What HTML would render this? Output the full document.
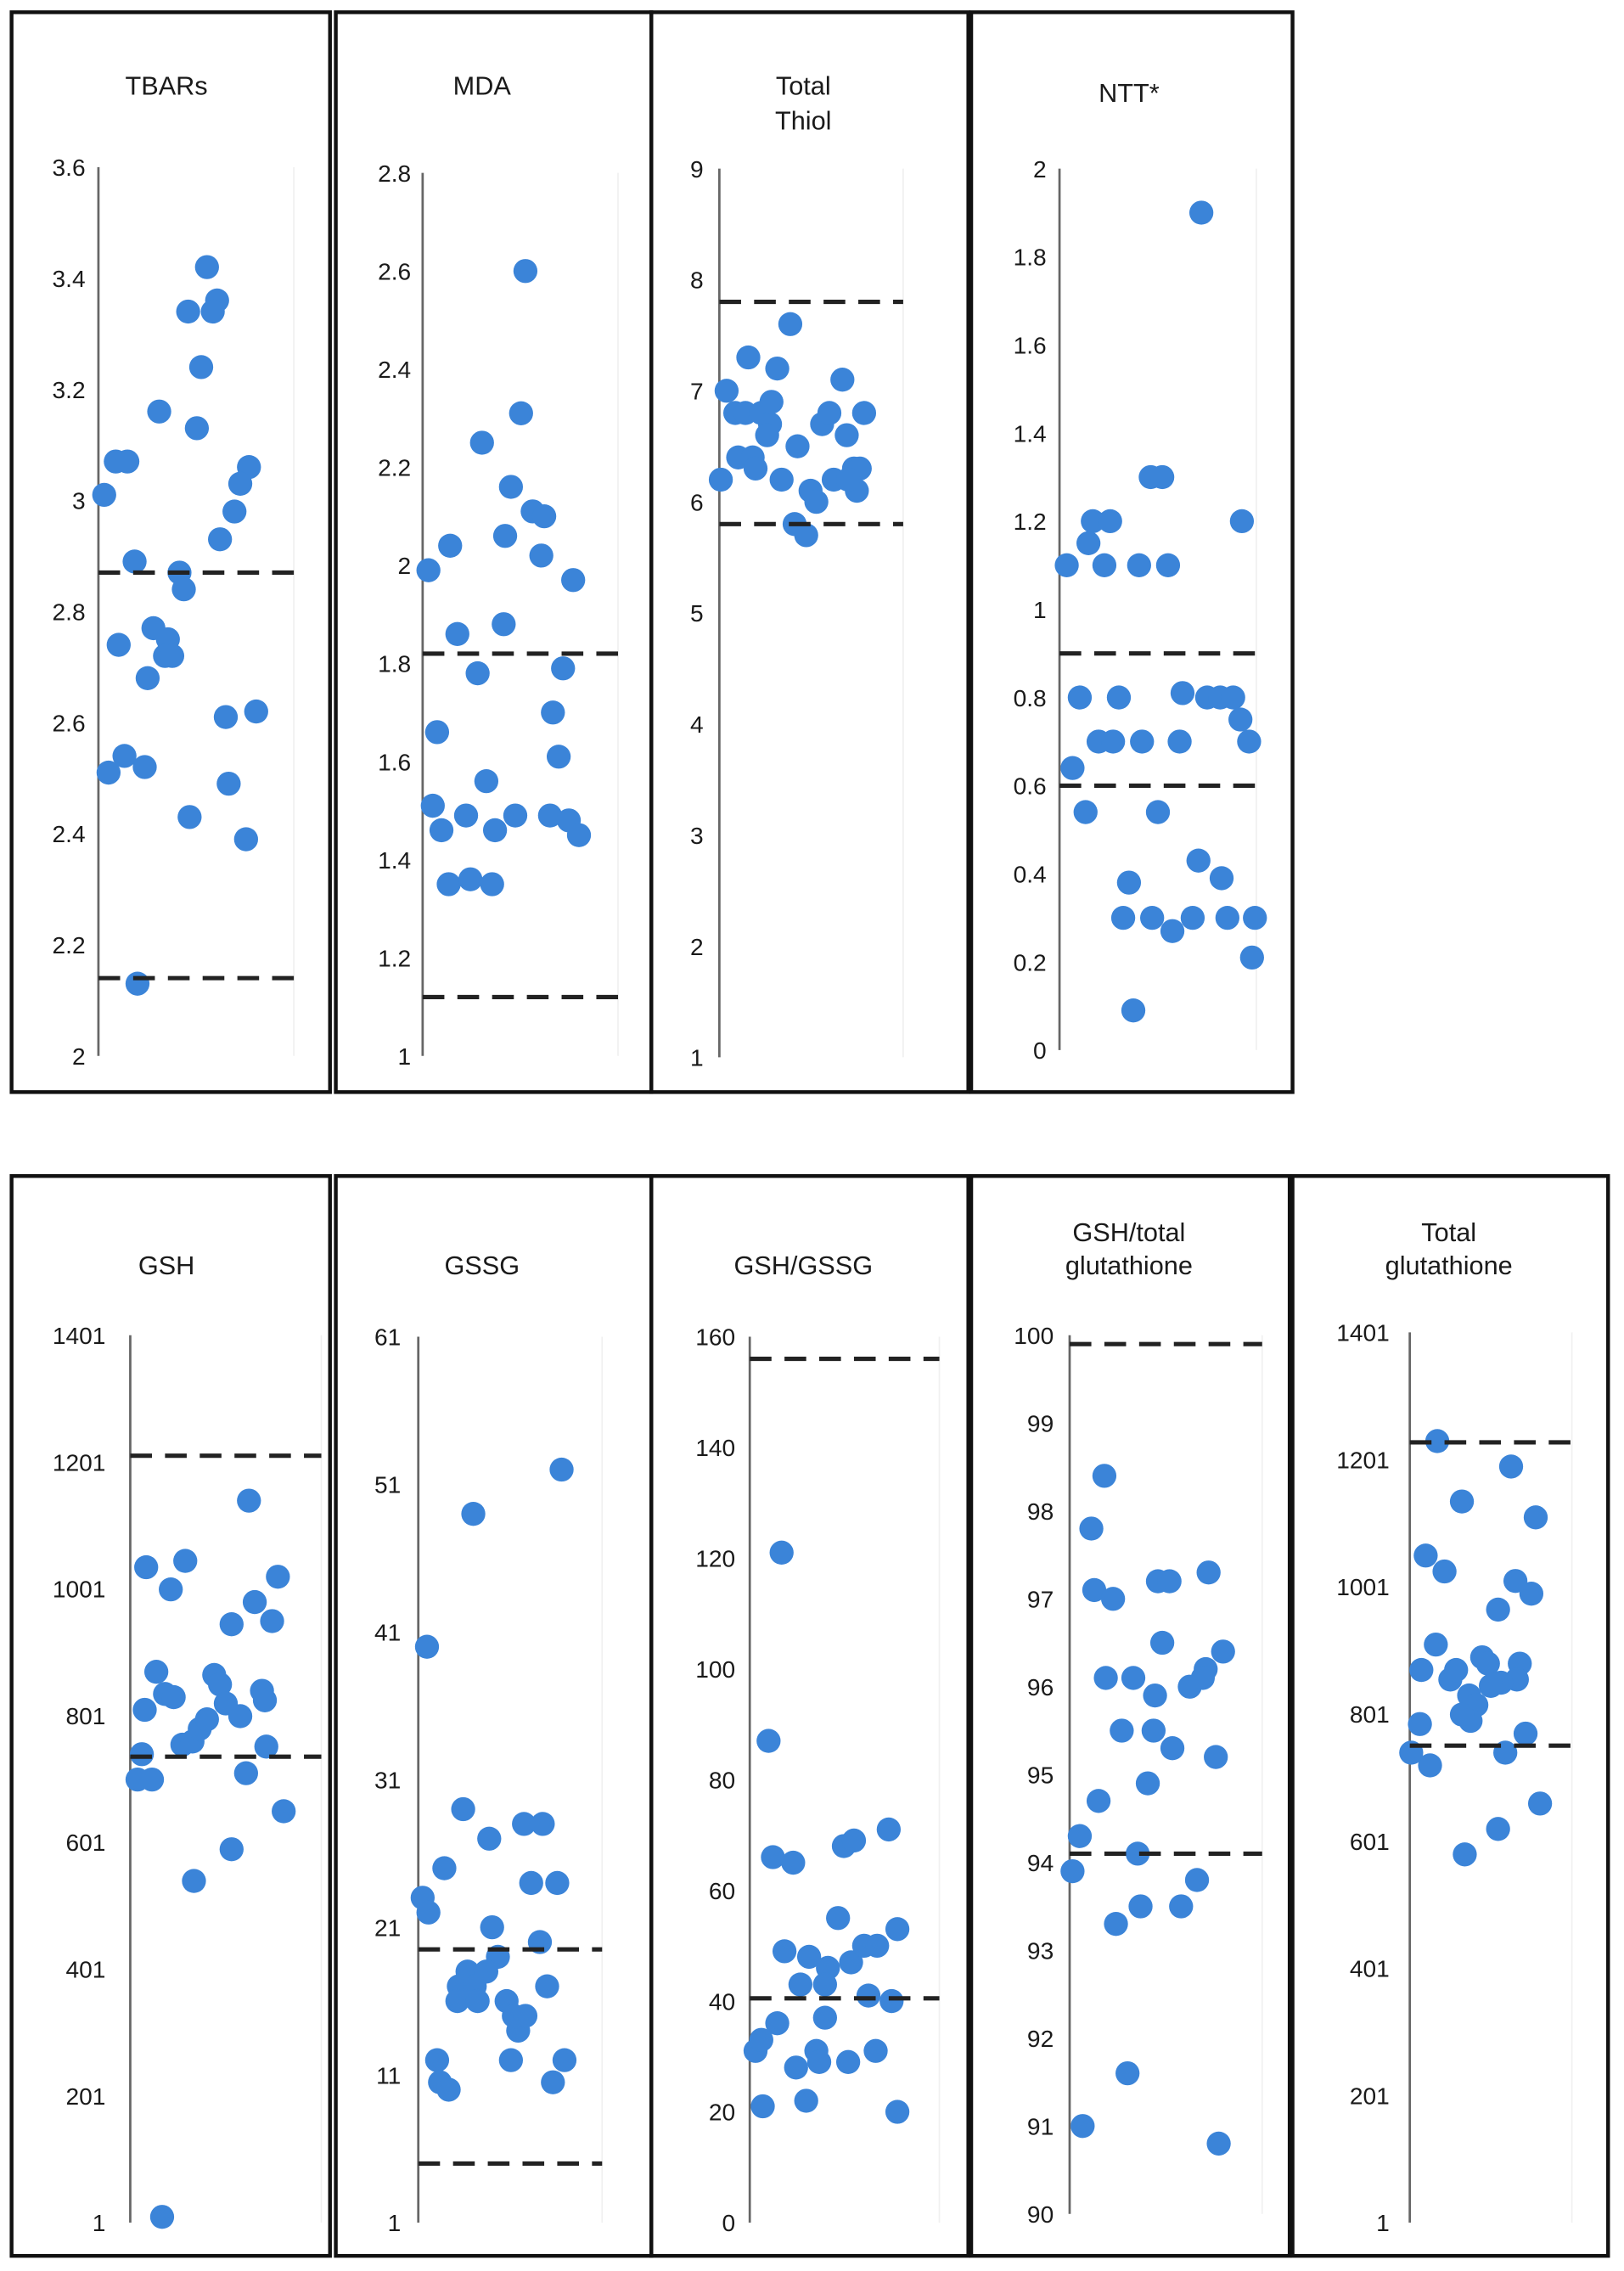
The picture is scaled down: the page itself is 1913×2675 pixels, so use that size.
<!DOCTYPE html>
<html><head><meta charset="utf-8">
<style>
html,body{margin:0;padding:0;background:#fff;}
svg{display:block;}
text{font-family:"Liberation Sans",Arial,sans-serif;fill:#1a1a1a;}
</style></head>
<body>
<svg id="fig" width="1913" height="2675" viewBox="0 0 1122 1568" xmlns="http://www.w3.org/2000/svg"></svg>
<script>
// ---- data (jitter = horizontal offset in display px from axis) ----
const tbarsValues=[3.01,3.07,3.07,3.16,2.89,2.87,2.84,2.74,2.77,2.75,2.72,2.72,2.68,3.42,3.36,3.34,3.34,3.24,3.13,3.06,3.03,2.98,2.93,2.51,2.54,2.52,2.43,2.61,2.62,2.49,2.39,2.13];
const tbarsJitter=[4,12,20,42,25,56,59,14,38,48,46,51,34,75,82,79,62,71,68,104,98,94,84,7,18,32,63,88,109,90,102,27];
const mdaValues=[1.99,2.04,1.66,1.86,1.78,2.25,2.06,2.16,1.88,2.6,2.31,2.11,2.1,2.02,1.97,1.79,1.7,1.61,1.51,1.46,1.49,1.56,1.46,1.49,1.49,1.48,1.45,1.35,1.36,1.35];
const mdaJitter=[4,19,10,24,38,41,57,61,56,71,68,76,84,82,104,97,90,94,7,13,30,44,50,64,88,101,108,18,33,48];
const thiolValues=[7.0,6.8,6.8,7.3,7.2,7.6,6.2,6.4,6.4,6.8,6.7,6.6,6.3,6.2,6.5,6.9,6.7,6.8,7.1,6.6,6.8,6.1,6.0,6.2,6.3,6.3,6.1,5.8,5.7,6.2];
const thiolJitter=[5,11,18,20,40,49,1,13,23,29,35,33,25,43,54,36,71,76,85,88,100,63,67,79,93,97,95,52,60,89];
const nttValues=[1.1,1.2,1.2,1.15,1.1,1.1,1.1,1.3,1.3,1.9,1.2,0.64,0.8,0.7,0.7,0.8,0.7,0.7,0.81,0.8,0.8,0.8,0.75,0.7,0.54,0.54,0.38,0.3,0.3,0.27,0.3,0.43,0.39,0.3,0.3,0.21,0.09];
const nttJitter=[5,23,35,20,31,55,75,63,71,98,126,9,14,27,37,41,57,83,85,102,111,120,125,131,18,68,48,44,64,78,92,96,112,116,135,133,51];
const gshValues=[1035,1045,1000,1140,1020,980,950,945,700,700,740,810,870,835,830,755,760,780,795,865,850,820,800,840,825,752,710,590,540,650,10];
const gshJitter=[11,38,28,82,102,86,98,70,5,15,8,10,18,24,30,36,43,48,53,58,62,66,76,91,93,94,80,70,44,106,22];
const gssgValues=[40,49,52,23,22,25,29,27,28,28,24,24,21,20,19,17,18,17,16,16,18,16,15,14,15,17,12,10.5,10,12,12,10.5];
const gssgJitter=[6,38,99,3,7,18,31,49,73,86,78,96,51,84,55,28,34,39,27,41,47,61,66,69,74,89,13,15,21,64,101,93];
const ratioValues=[121,87,66,65,68,69,71,49,48,55,46,43,43,47,50,50,53,41,40,31,33,36,28,31,29,37,29,31,21,22,20];
const ratioJitter=[22,13,16,30,65,72,96,24,41,61,54,35,52,70,79,88,102,82,98,4,8,19,32,46,48,52,68,87,9,39,102];
const fracValues=[98.4,97.8,97.1,97.0,97.2,97.2,97.3,96.1,96.1,96.5,96.0,96.2,96.4,95.9,95.5,95.5,95.3,94.9,95.2,94.7,94.3,93.9,94.1,93.3,93.5,93.5,93.8,91.6,91.0,90.8,96.1];
const fracJitter=[24,15,17,30,61,69,96,25,44,64,83,94,106,59,36,58,71,54,101,20,7,2,47,32,49,77,88,40,9,103,92];
const totValues=[1230,1135,1190,1110,1050,1025,965,1010,990,910,870,855,870,890,880,880,855,850,845,830,815,790,800,785,720,740,740,770,620,660,580];
const totJitter=[19,36,70,87,11,24,61,73,84,18,8,28,32,50,54,76,74,63,56,41,46,42,36,7,14,1,66,80,61,90,38];

const tbarsTicks=["3.6","3.4","3.2","3","2.8","2.6","2.4","2.2","2"];
const mdaTicks=["2.8","2.6","2.4","2.2","2","1.8","1.6","1.4","1.2","1"];
const thiolTicks=["9","8","7","6","5","4","3","2","1"];
const nttTicks=["2","1.8","1.6","1.4","1.2","1","0.8","0.6","0.4","0.2","0"];
const gshTicks=["1401","1201","1001","801","601","401","201","1"];
const gssgTicks=["61","51","41","31","21","11","1"];
const ratioTicks=["160","140","120","100","80","60","40","20","0"];
const fracTicks=["100","99","98","97","96","95","94","93","92","91","90"];
const totTicks=["1401","1201","1001","801","601","401","201","1"];

const tbarsRefs=[2.87,2.14], mdaRefs=[1.82,1.12], thiolRefs=[7.8,5.8], nttRefs=[0.9,0.6];
const gshRefs=[1211,736], gssgRefs=[19.5,5], ratioRefs=[156,40.5], fracRefs=[99.9,94.1], totRefs=[1228,751];

const NS="http://www.w3.org/2000/svg";
const svg=document.getElementById('fig');
function mk(tag,attrs,parent){const e=document.createElementNS(NS,tag);for(const k in attrs)e.setAttribute(k,attrs[k]);(parent||svg).appendChild(e);return e;}

const panels=[
 {name:'tbars',box:[8,8,228,754],title:['TBARs'],tc:115,ty:[65],ax:68,rx:203,yt:115,yb:729,min:2,max:3.6,ticks:tbarsTicks,vals:tbarsValues,jit:tbarsJitter,refs:tbarsRefs,lx:59},
 {name:'mda',box:[232,8,450,754],title:['MDA'],tc:333,ty:[65],ax:292,rx:427,yt:119,yb:729,min:1,max:2.8,ticks:mdaTicks,vals:mdaValues,jit:mdaJitter,refs:mdaRefs,lx:284},
 {name:'total-thiol',box:[450,8,669,754],title:['Total','Thiol'],tc:555,ty:[65,89],ax:497,rx:624,yt:116,yb:730,min:1,max:9,ticks:thiolTicks,vals:thiolValues,jit:thiolJitter,refs:thiolRefs,lx:486},
 {name:'ntt',box:[671,8,893,754],title:['NTT*'],tc:780,ty:[70],ax:732,rx:868,yt:116,yb:725,min:0,max:2,ticks:nttTicks,vals:nttValues,jit:nttJitter,refs:nttRefs,lx:723},
 {name:'gsh',box:[8,812,228,1558],title:['GSH'],tc:115,ty:[880],ax:90,rx:222,yt:922,yb:1535,min:1,max:1401,ticks:gshTicks,vals:gshValues,jit:gshJitter,refs:gshRefs,lx:73},
 {name:'gssg',box:[232,812,450,1558],title:['GSSG'],tc:333,ty:[880],ax:289,rx:416,yt:923,yb:1535,min:1,max:61,ticks:gssgTicks,vals:gssgValues,jit:gssgJitter,refs:gssgRefs,lx:277},
 {name:'gsh-gssg-ratio',box:[450,812,669,1558],title:['GSH/GSSG'],tc:555,ty:[880],ax:518,rx:649,yt:923,yb:1535,min:0,max:160,ticks:ratioTicks,vals:ratioValues,jit:ratioJitter,refs:ratioRefs,lx:508},
 {name:'gsh-total-ratio',box:[671,812,891,1558],title:['GSH/total','glutathione'],tc:780,ty:[857,880],ax:739,rx:872,yt:922,yb:1529,min:90,max:100,ticks:fracTicks,vals:fracValues,jit:fracJitter,refs:fracRefs,lx:728},
 {name:'total-glutathione',box:[893,812,1111,1558],title:['Total','glutathione'],tc:1001,ty:[857,880],ax:974,rx:1086,yt:920,yb:1535,min:1,max:1401,ticks:totTicks,vals:totValues,jit:totJitter,refs:totRefs,lx:960}
];

panels.forEach(p=>{
  const g=mk('g',{});
  
  
  const y=v=>p.yb-(v-p.min)/(p.max-p.min)*(p.yb-p.yt);
  const b=p.box;
  const r=mk('rect',{x:b[0],y:b[1],width:b[2]-b[0],height:b[3]-b[1],fill:'none',stroke:'#111','stroke-width':2.6},g);
  
  
  p.title.forEach((t,i)=>{
    const tx=mk('text',{x:p.tc,y:p.ty[i],'text-anchor':'middle','font-size':18},g);
    tx.textContent=t;
    
    
  });
  const rl=mk('line',{x1:p.rx,x2:p.rx,y1:p.yt,y2:p.yb,stroke:'#f0f0f0','stroke-width':1},g);
  
  
  const ax=mk('line',{x1:p.ax,x2:p.ax,y1:p.yt,y2:p.yb,stroke:'#666','stroke-width':1.6},g);
  
  
  const n=p.ticks.length;
  p.ticks.forEach((t,i)=>{
    const v=p.max-(p.max-p.min)*i/(n-1);
    const tx=mk('text',{x:p.lx,y:y(v)+6,'text-anchor':'end','font-size':16.5},g);
    tx.textContent=t;
    
    
  });
  p.vals.forEach((v,i)=>{
    const c=mk('circle',{cx:p.ax+p.jit[i],cy:y(v),r:8.3,fill:'#3b84d8'},g);
    
    
  });
  p.refs.forEach(v=>{
    const l=mk('line',{x1:p.ax,x2:p.rx,y1:y(v),y2:y(v),stroke:'#222','stroke-width':3,'stroke-dasharray':'15 9'},g);
    
    
  });
});
</script>
</body></html>
